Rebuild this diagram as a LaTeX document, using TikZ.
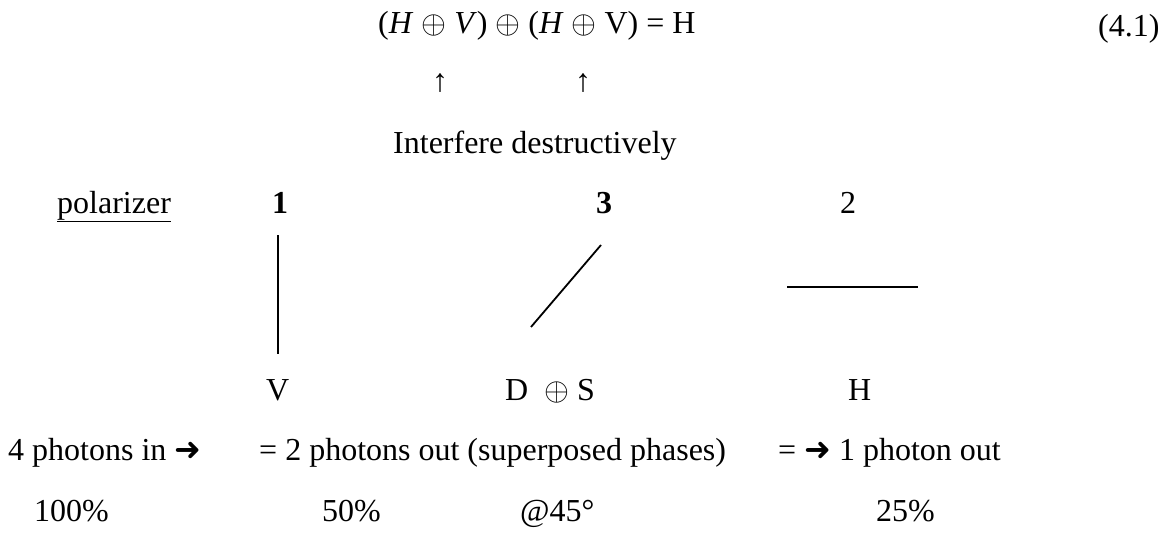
\RequirePackage{fix-cm}
\documentclass[tikz,border=0pt]{standalone}
\usepackage{fontspec}
\setmainfont{Liberation Serif}
\newfontfamily\symfont{DejaVu Sans}
\newcommand\myop{$\oplus$}
\newcommand\myarr{{\symfont\fontsize{32}{36}\selectfont ➜}}
\begin{document}
\begin{tikzpicture}[x=1pt,y=-1pt,
  txt/.style={anchor=base west, inner sep=0pt, font=\fontsize{32}{38}\selectfont},
  upar/.style={anchor=base, inner sep=0pt, font=\fontsize{32}{38}\selectfont},
  polline/.style={line width=1.8pt}]
\fill[white] (0,0) rectangle (1173,533);
\useasboundingbox (0,0) rectangle (1173,533);
% equation
\node[txt] (eq) at (378,33) {(\textit{H} \myop{} \textit{V}) \myop{} (\textit{H} \myop{} V) = H};
\node[txt] (eqno) at (1098,36) {(4.1)};
\node[upar] (up1) at (440,91) {↑};
\node[upar] (up2) at (583,91) {↑};
\node[txt] (interf) at (393,153) {Interfere destructively};
% polarizer row
\node[txt] (pol) at (57,213) {\underline{polarizer}};
\node[txt] (p1) at (272,213) {\textbf{1}};
\node[txt] (p3) at (596,213) {\textbf{3}};
\node[txt] (p2) at (840,213) {2};
% polarizer lines
\coordinate (a1) at (278,235);
\coordinate (a2) at (278,354);
\draw[polline] (a1) -- (a2);
\coordinate (b1) at (531,327);
\coordinate (b2) at (601,245);
\draw[polline] (b1) -- (b2);
\coordinate (c1) at (787,287);
\coordinate (c2) at (918,287);
\draw[polline] (c1) -- (c2);
% states
\node[txt] (sV) at (266,400) {V};
\node[txt] (sDS) at (505,400) {D\ \ \myop{} S};
\node[txt] (sH) at (848,400) {H};
% photon counts
\node[txt] (in4) at (8,460) {4 photons in \myarr};
\node[txt] (out2) at (259,460) {= 2 photons out (superposed phases)};
\node[txt] (out1) at (778,460) {= \myarr{} 1 photon out};
% percentages
\node[txt] (pc100) at (34,521) {100\%};
\node[txt] (pc50) at (322,521) {50\%};
\node[txt] (at45) at (520,521) {@45°};
\node[txt] (pc25) at (876,521) {25\%};
\end{tikzpicture}
\end{document}
